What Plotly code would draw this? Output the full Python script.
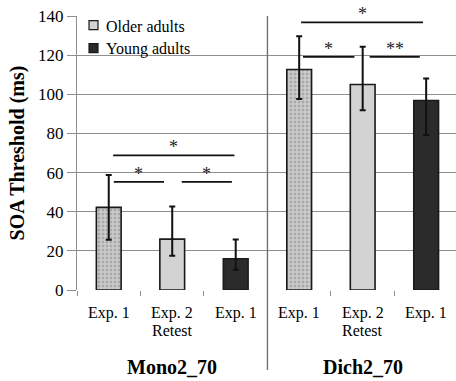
import plotly.graph_objects as go

# ---- data -------------------------------------------------------------
conditions = ["Mono2_70", "Dich2_70"]
x_labels = ["Exp. 1", "Exp. 2\nRetest", "Exp. 1", "Exp. 1", "Exp. 2\nRetest", "Exp. 1"]

# SOA thresholds (ms), bar order: older Exp.1, older Exp.2 retest, young Exp.1
mono_mean = [42.2, 26.0, 16.0]
mono_err_plus = [16.6, 16.7, 9.8]
mono_err_minus = [16.5, 8.5, 5.7]

dich_mean = [112.7, 105.0, 96.8]
dich_err_plus = [17.0, 19.3, 11.3]
dich_err_minus = [15.1, 13.1, 17.6]

y_ticks = [0, 20, 40, 60, 80, 100, 120, 140]

# significance brackets: (start, end, level in ms, label)
sig_brackets = [
    (0.07, 1.98, 68.8, "*"),
    (0.08, 0.87, 55.2, "*"),
    (1.15, 1.94, 55.2, "*"),
    (3.03, 4.95, 136.7, "*"),
    (3.06, 3.87, 119.1, "*"),
    (4.11, 4.90, 119.1, "**"),
]

# ---- styling ----------------------------------------------------------
FONT = "Liberation Serif"
GRID = "#8f8f8f"
EDGE = "#1a1a1a"
LIGHT = "#d3d3d3"
DARK = "#2b2b2b"
BAR_W = 0.39

means = mono_mean + dich_mean
plus = mono_err_plus + dich_err_plus
minus = mono_err_minus + dich_err_minus
xs = list(range(len(means)))


def pick(seq, idx):
    return [seq[i] for i in idx]


groups = [
    # (indices, name, color, pattern, legend)
    ([0, 3], "Older adults Exp. 1", "#c4c4c4",
     dict(shape=".", size=4, solidity=0.45, fgcolor="#858585", bgcolor="#cdcdcd"), False),
    ([1, 4], "Older adults", LIGHT, None, True),
    ([2, 5], "Young adults", DARK, None, True),
]

fig = go.Figure()
for idx, name, color, pattern, show in groups:
    marker = dict(color=color, line=dict(color=EDGE, width=1.6))
    if pattern:
        marker["pattern"] = pattern
    fig.add_trace(go.Bar(
        x=pick(xs, idx), y=pick(means, idx), name=name, width=BAR_W,
        marker=marker, showlegend=False,
        error_y=dict(type="data", symmetric=False,
                     array=pick(plus, idx), arrayminus=pick(minus, idx),
                     color="#111111", thickness=2, width=3),
    ))

# key in the upper-left corner: swatch + label for each group
legend_rows = [g for g in groups if g[4]]
for r, (_, name, color, _, _) in enumerate(legend_rows):
    yc = 0.967 - r * 0.084
    fig.add_shape(type="rect", xref="paper", yref="paper",
                  x0=0.0317, x1=0.0554, y0=yc - 0.0164, y1=yc + 0.0164,
                  fillcolor=color, line=dict(color=EDGE, width=1.2))
    fig.add_annotation(x=0.0712, y=yc, xref="paper", yref="paper", text=name,
                       showarrow=False, xanchor="left", yanchor="middle", yshift=-1,
                       font=dict(family=FONT, size=16, color="black"))

# significance lines and stars
for x0, x1, lvl, lab in sig_brackets:
    fig.add_shape(type="line", xref="x", yref="y", x0=x0, x1=x1, y0=lvl, y1=lvl,
                  line=dict(color="#111111", width=1.8))
    fig.add_annotation(x=(x0 + x1) / 2, y=lvl, xref="x", yref="y", text=lab,
                       showarrow=False, yanchor="middle", yshift=8,
                       font=dict(family=FONT, size=18, color="#222222"))

# category labels (one annotation per line)
for i, lab in enumerate(x_labels):
    for k, line in enumerate(lab.split("\n")):
        fig.add_annotation(x=i, y=-0.084, xref="x", yref="paper", text=line,
                           showarrow=False, yanchor="middle", yshift=-17 * k,
                           font=dict(family=FONT, size=16, color="black"))

# condition labels
for g, cond in enumerate(conditions):
    fig.add_annotation(x=g * 3 + 1, y=-0.281, xref="x", yref="paper", text=f"<b>{cond}</b>",
                       showarrow=False, yanchor="middle",
                       font=dict(family=FONT, size=20, color="black"))

# divider between the two conditions
fig.add_shape(type="line", xref="x", yref="paper", x0=2.5, x1=2.5, y0=-0.292, y1=1,
              line=dict(color="#6a6a6a", width=1.3))

fig.update_layout(
    width=456, height=381,
    margin=dict(l=77, r=0, t=16, b=91, pad=0),
    paper_bgcolor="white", plot_bgcolor="white",
    barmode="overlay",
    font=dict(family=FONT, color="black"),
    showlegend=False,
    xaxis=dict(range=[-0.5, 5.47], tickvals=[-0.5, 0.5, 1.5, 2.5, 3.5, 4.5],
               showticklabels=False, ticks="outside", ticklen=5, tickcolor=GRID,
               showgrid=False, zeroline=False, showline=False, fixedrange=True),
    yaxis=dict(range=[0, 140], tickvals=y_ticks, showgrid=True, gridcolor=GRID,
               gridwidth=1, zeroline=False, showline=True, linecolor=GRID, linewidth=1,
               ticks="outside", ticklen=9, tickcolor=GRID,
               tickfont=dict(family=FONT, size=17, color="black"),
               title=dict(text="<b>SOA Threshold (ms)</b>", standoff=8,
                          font=dict(family=FONT, size=20, color="black"))),
)

fig.write_html("out.html")
